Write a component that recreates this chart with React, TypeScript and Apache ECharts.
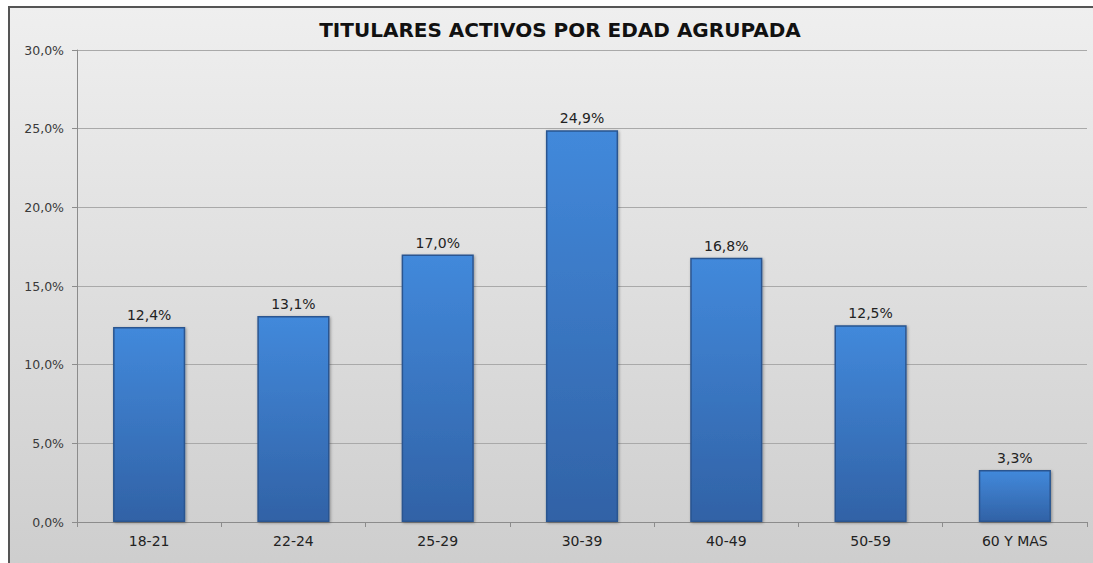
import React, { useEffect, useRef } from "react";
import * as echarts from "echarts";

const categories = ["18-21", "22-24", "25-29", "30-39", "40-49", "50-59", "60 Y MAS"];
const values = [12.4, 13.1, 17.0, 24.9, 16.8, 12.5, 3.3];
const titleText = "TITULARES ACTIVOS POR EDAD AGRUPADA";

const fmt = (v: number) => v.toFixed(1).replace(".", ",") + "%";
const FONT = "DejaVu Sans";

export default function App() {
  const ref = useRef<HTMLDivElement>(null);
  useEffect(() => {
    if (!ref.current) return;
    const chart = echarts.init(ref.current, null, { renderer: "svg" });
    chart.setOption({
      animation: false,
      graphic: [
        {
          type: "rect",
          z: -10,
          silent: true,
          shape: { x: 9, y: 7, width: 1100, height: 570 },
          style: {
            fill: {
              type: "linear",
              x: 0,
              y: 0,
              x2: 0,
              y2: 1,
              colorStops: [
                { offset: 0, color: "#efefef" },
                { offset: 1, color: "#cdcdcd" },
              ],
            },
            stroke: "#555555",
            lineWidth: 2,
          },
        },
      ],
      title: {
        text: titleText,
        left: 555,
        textAlign: "center",
        top: 15,
        textStyle: {
          fontFamily: FONT,
          fontWeight: "bold",
          fontSize: 20,
          color: "#111",
        },
      },
      grid: { left: 77, right: 6, top: 50, bottom: 41 },
      xAxis: {
        type: "category",
        data: categories,
        axisLine: { lineStyle: { color: "#8c8c8c" } },
        axisTick: { show: true, alignWithLabel: false, length: 5, lineStyle: { color: "#8c8c8c" } },
        axisLabel: { fontFamily: FONT, fontSize: 14, color: "#222", margin: 12 },
      },
      yAxis: {
        type: "value",
        min: 0,
        max: 30,
        interval: 5,
        axisLine: { show: true, lineStyle: { color: "#8c8c8c" } },
        axisTick: { show: true, length: 5, lineStyle: { color: "#8c8c8c" } },
        splitLine: { lineStyle: { color: "#a9a9a9" } },
        axisLabel: {
          formatter: (v: number) => fmt(v),
          fontFamily: FONT,
          fontSize: 12.5,
          color: "#3a3a3a",
          margin: 13,
        },
      },
      series: [
        {
          type: "bar",
          data: values,
          barWidth: "50%",
          itemStyle: {
            color: {
              type: "linear",
              x: 0,
              y: 0,
              x2: 0,
              y2: 1,
              colorStops: [
                { offset: 0, color: "#4289db" },
                { offset: 1, color: "#3162a6" },
              ],
            },
            borderColor: "#2a5590",
            borderWidth: 1.5,
            shadowColor: "rgba(0,0,0,0.35)",
            shadowBlur: 3,
            shadowOffsetX: 1,
            shadowOffsetY: 1,
          },
          label: {
            show: true,
            position: "top",
            distance: 5,
            formatter: (p: any) => fmt(p.value),
            fontFamily: FONT,
            fontSize: 14,
            color: "#222",
          },
        },
      ],
    });
    return () => chart.dispose();
  }, []);
  return (
    <div style={{ position: "absolute", left: 0, top: 0, width: 1093, height: 563, background: "#fff", overflow: "hidden" }}>
      <div ref={ref} style={{ width: 1093, height: 563 }} />
    </div>
  );
}
